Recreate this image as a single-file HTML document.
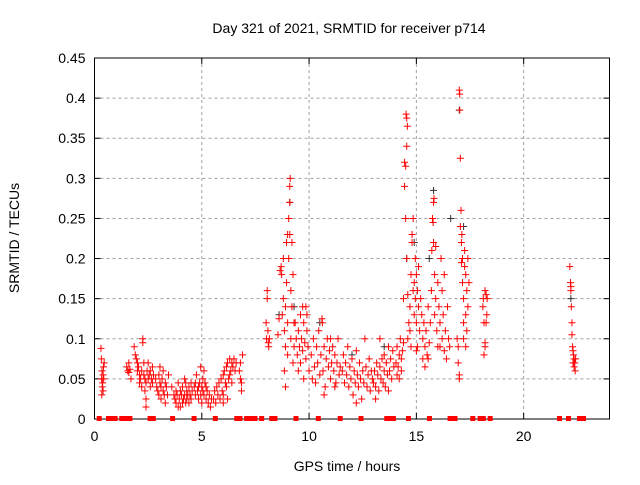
<!DOCTYPE html>
<html><head><meta charset="utf-8"><style>
body{margin:0;background:#fff}
svg text{font-family:"Liberation Sans",sans-serif;font-size:14px;fill:#000}
</style></head><body>
<svg id="chart" width="640" height="480" xmlns="http://www.w3.org/2000/svg">
<rect width="640" height="480" fill="#fff"/>
<g id="grid"></g>
<g id="axes"></g>
<g id="marks"></g>
<text x="349" y="33" text-anchor="middle">Day 321 of 2021, SRMTID for receiver p714</text>
<text x="347" y="471" text-anchor="middle">GPS time / hours</text>
<text transform="translate(19,238) rotate(-90)" text-anchor="middle">SRMTID / TECUs</text>
</svg>
<script>
const xTicks=[0,5,10,15,20];
const yTicks=[0,0.05,0.1,0.15,0.2,0.25,0.3,0.35,0.4,0.45];
const yTickLabels=["0","0.05","0.1","0.15","0.2","0.25","0.3","0.35","0.4","0.45"];
const redPts=[[0.3,.088],[0.32,.075],[0.35,.06],[0.33,.05],[0.38,.045],[0.4,.055],[0.42,.065],[0.36,.04],[0.34,.03],[0.45,.07],[0.4,.035],[0.43,.05],
[1.5,.065],[1.55,.06],[1.6,.058],[1.65,.062],[1.7,.05],[1.6,.07],
[1.85,.09],[1.9,.08],[1.95,.075],[2.0,.07],[2.0,.06],[2.05,.065],[2.1,.055],[2.1,.045],[2.15,.05],[2.2,.06],[2.2,.04],[2.25,.1],[2.25,.095],[2.3,.07],[2.3,.055],[2.35,.05],[2.35,.035],[2.4,.045],[2.4,.015],[2.4,.025],[2.45,.06],[2.5,.05],[2.5,.07],[2.55,.055],[2.6,.04],[2.6,.06],[2.65,.05],[2.7,.065],[2.7,.045],[2.75,.055],
[2.85,.05],[2.9,.04],[2.95,.035],[3.0,.055],[3.0,.03],[3.05,.045],[3.1,.04],[3.1,.025],[3.15,.05],[3.2,.035],[3.2,.06],[3.25,.03],[3.3,.045],[3.3,.02],[3.35,.04],[3.4,.03],[3.45,.055],[3.05,.065],
[3.6,.04],[3.7,.03],[3.75,.025],[3.8,.035],[3.8,.02],[3.85,.03],[3.9,.045],[3.95,.025],[4.0,.035],[4.0,.015],[4.05,.03],[4.1,.04],[4.1,.02],[4.15,.025],[4.2,.03],[4.2,.05],[4.25,.02],[4.3,.035],[4.3,.025],[4.35,.03],[4.4,.04],[4.4,.02],[4.45,.03],[4.5,.025],[4.55,.035],[3.9,.015],[4.25,.045],[4.5,.045],
[4.65,.04],[4.7,.045],[4.7,.03],[4.75,.055],[4.8,.035],[4.85,.04],[4.85,.025],[4.9,.045],[4.95,.03],[5.0,.04],[5.0,.02],[5.05,.05],[5.05,.035],[5.1,.03],[5.15,.045],[5.2,.025],[5.2,.04],[5.25,.035],[5.3,.02],[5.35,.03],[5.4,.015],[5.45,.025],[5.1,.06],[4.95,.065],
[5.55,.025],[5.6,.035],[5.65,.02],[5.7,.04],[5.75,.03],[5.8,.045],[5.85,.025],[5.9,.05],[5.95,.035],[6.0,.055],[6.0,.03],[6.05,.06],[6.1,.045],[6.15,.065],[6.15,.04],[6.2,.07],[6.25,.05],[6.3,.075],[6.3,.055],[6.35,.06],[6.4,.07],[6.4,.045],[6.45,.065],[6.5,.075],[6.55,.06],[6.6,.07],[6.0,.02],[6.2,.025],
[6.75,.06],[6.8,.05],[6.8,.07],[6.85,.045],[6.9,.08],[6.85,.035],
[8.0,.12],[8.02,.1],[8.05,.16],[8.05,.15],[8.08,.11],[8.1,.095],[8.12,.09],[8.15,.1],
[8.55,.105],[8.6,.125],[8.65,.185],[8.7,.19],[8.72,.18],[8.75,.13],[8.8,.2],[8.8,.15],[8.85,.11],[8.85,.06],[8.9,.14],[8.9,.09],[8.95,.22],[8.95,.17],[9.0,.23],[9.0,.12],[9.0,.08],[9.05,.25],[9.05,.2],[9.1,.27],[9.1,.29],[9.12,.3],[9.1,.23],[9.15,.16],[9.15,.1],[9.2,.22],[9.2,.14],[9.25,.18],[9.25,.07],[8.9,.04],[9.3,.12],[9.3,.09],
[9.35,.12],[9.4,.1],[9.45,.08],[9.5,.11],[9.55,.09],[9.6,.13],[9.6,.07],[9.65,.1],[9.7,.085],[9.75,.12],[9.75,.05],[9.8,.095],[9.85,.14],[9.85,.075],[9.9,.11],[9.95,.09],[10.0,.06],[9.7,.14],[9.5,.06],[9.9,.13],
[10.1,.08],[10.15,.05],[10.2,.1],[10.25,.065],[10.3,.045],[10.35,.09],[10.4,.07],[10.45,.11],[10.5,.055],[10.55,.08],[10.6,.125],[10.62,.12],[10.65,.06],[10.7,.09],[10.75,.04],[10.8,.075],[10.85,.1],[10.9,.065],[10.95,.085],[11.0,.05],[11.05,.07],[11.1,.09],[11.15,.06],[11.2,.08],[11.25,.045],[11.3,.07],[11.35,.1],[11.4,.055],[11.45,.065],[10.7,.03],[11.0,.1],[11.2,.04],
[11.55,.06],[11.6,.08],[11.65,.045],[11.7,.07],[11.75,.055],[11.8,.09],[11.85,.04],[11.9,.065],[11.95,.05],[12.0,.075],[12.05,.03],[12.1,.06],[12.15,.045],[12.2,.085],[12.25,.055],[12.3,.04],[12.35,.07],[12.4,.05],[12.45,.025],[12.5,.06],[12.55,.045],[12.6,.1],[12.65,.065],[12.7,.04],[12.75,.055],[12.8,.075],[12.85,.035],[12.9,.06],[12.95,.05],[12.2,.02],
[13.0,.045],[13.05,.06],[13.1,.04],[13.15,.07],[13.2,.055],[13.25,.035],[13.3,.065],[13.35,.05],[13.4,.075],[13.45,.045],[13.5,.08],[13.5,.06],[13.55,.04],[13.6,.07],[13.65,.055],[13.7,.09],[13.75,.06],[13.8,.075],[13.85,.05],[13.9,.085],[13.95,.065],[13.3,.1],[13.1,.025],[13.7,.035],
[14.05,.07],[14.1,.055],[14.1,.09],[14.15,.065],[14.2,.08],[14.2,.05],[14.25,.1],[14.3,.06],[14.3,.075],[14.35,.085],[14.4,.095],[14.4,.15],[14.45,.29],[14.45,.32],[14.5,.315],[14.5,.25],[14.52,.38],[14.55,.375],[14.55,.34],[14.58,.365],[14.55,.2],[14.6,.1],[14.6,.155],
[14.65,.12],[14.7,.14],[14.7,.11],[14.75,.18],[14.8,.23],[14.8,.22],[14.85,.25],[14.85,.16],[14.9,.17],[14.9,.13],[14.95,.2],[14.95,.15],[15.0,.18],[15.0,.12],[15.05,.16],[15.05,.09],[15.1,.14],[15.1,.19],[15.15,.11],[15.2,.15],[14.75,.09],[15.0,.085],
[15.25,.13],[15.3,.1],[15.3,.075],[15.35,.12],[15.4,.09],[15.45,.11],[15.5,.08],[15.55,.14],[15.6,.095],[15.65,.12],[15.4,.065],[15.55,.075],
[15.7,.16],[15.72,.21],[15.75,.25],[15.78,.245],[15.8,.22],[15.8,.27],[15.82,.275],[15.85,.18],[15.85,.13],[15.9,.215],[15.9,.15],[15.95,.11],[16.0,.17],[16.0,.09],
[16.05,.14],[16.1,.12],[16.1,.09],[16.15,.2],[16.2,.16],[16.2,.1],[16.25,.13],[16.3,.085],[16.3,.18],[16.35,.11],[16.4,.075],[16.45,.14],[16.5,.1],[16.55,.09],
[16.9,.1],[16.95,.09],[16.95,.07],[17.0,.05],[17.0,.055],[17.0,.41],[17.02,.405],[17.02,.385],[17.05,.325],[17.05,.24],[17.08,.26],[17.1,.22],[17.1,.195],[17.12,.23],[17.15,.2],[17.15,.17],[17.2,.15],[17.2,.12],[17.25,.21],[17.25,.19],[17.3,.18],[17.3,.13],[17.35,.11],[17.35,.16],[17.4,.2],[17.4,.14],[17.45,.17],[17.2,.1],[17.3,.09],
[18.1,.14],[18.12,.15],[18.15,.12],[18.2,.16],[18.2,.095],[18.25,.155],[18.3,.15],[18.25,.12],[18.2,.09],[18.15,.08],[18.28,.13],
[22.15,.19],[22.18,.17],[22.2,.16],[22.2,.165],[22.22,.14],[22.25,.12],[22.25,.105],[22.28,.09],[22.3,.085],[22.3,.07],[22.32,.08],[22.35,.075],[22.35,.065],[22.38,.07],[22.4,.06],[22.42,.075]];
const blackPts=[[14.55,.2],[15.8,.285],[17.0,.385],[9.1,.27],[16.6,.25],[8.6,.13],[15.6,.2],[17.2,.24],[12.0,.08],[10.5,.12],[13.5,.09],[9.3,.14],[22.2,.15],[14.9,.22]];
const zeroHours=[0.22,0.65,0.8,0.96,1.27,1.42,1.65,2.59,2.74,3.64,4.64,5.63,6.63,6.78,7.09,7.25,7.48,7.79,8.26,8.41,9.39,10.43,11.45,12.42,13.62,13.78,13.93,14.63,15.61,16.57,16.7,16.8,17.63,17.97,18.12,18.44,21.67,22.09,22.6,22.79];

const L=94.5,R=609.5,T=58,B=419;
const X=h=>L+h*(R-L)/24, Y=v=>B-v*(B-T)/0.45;
const NS="http://www.w3.org/2000/svg";
function mk(tag,attrs,parent){const e=document.createElementNS(NS,tag);for(const k in attrs)e.setAttribute(k,attrs[k]);parent.appendChild(e);return e;}
const grid=document.getElementById('grid'),axes=document.getElementById('axes'),marks=document.getElementById('marks');
yTicks.forEach((v,i)=>{
  if(i>0&&i<yTicks.length-1){const g=mk('line',{x1:L,x2:R,y1:Y(v),y2:Y(v),stroke:'#a0a0a0','stroke-dasharray':'3,3'},grid);
  
  }
  mk('line',{x1:L,x2:L+6,y1:Y(v),y2:Y(v),stroke:'#000'},axes);
  mk('line',{x1:R,x2:R-6,y1:Y(v),y2:Y(v),stroke:'#000'},axes);
  const t=mk('text',{x:L-9,y:Y(v)+5,'text-anchor':'end'},axes);t.textContent=yTickLabels[i];
  
  
});
xTicks.forEach(h=>{
  if(h>0){const g=mk('line',{x1:X(h),x2:X(h),y1:T,y2:B,stroke:'#a0a0a0','stroke-dasharray':'3,3'},grid);
  
  }
  mk('line',{x1:X(h),x2:X(h),y1:B,y2:B-6,stroke:'#000'},axes);
  mk('line',{x1:X(h),x2:X(h),y1:T,y2:T+6,stroke:'#000'},axes);
  const t=mk('text',{x:X(h),y:B+22,'text-anchor':'middle'},axes);t.textContent=String(h);
  
  
});
const fr=mk('rect',{x:L,y:T,width:R-L,height:B-T,fill:'none',stroke:'#000'},axes);


function plus(p,col,name){
  const x=X(p[0]),y=Y(p[1]);
  const e=mk('path',{d:`M${x-3.5},${y}h7M${x},${y-3.5}v7`,stroke:col,'stroke-width':1,fill:'none'},marks);
  
  
}
blackPts.forEach(p=>plus(p,'#333','black-point'));
redPts.forEach(p=>plus(p,'#ff0000','red-point'));
zeroHours.forEach(h=>{
  const e=mk('rect',{x:X(h)-2.5,y:B-3,width:5,height:5,fill:'#ff0000'},marks);
  
  
});
</script>
</body></html>
